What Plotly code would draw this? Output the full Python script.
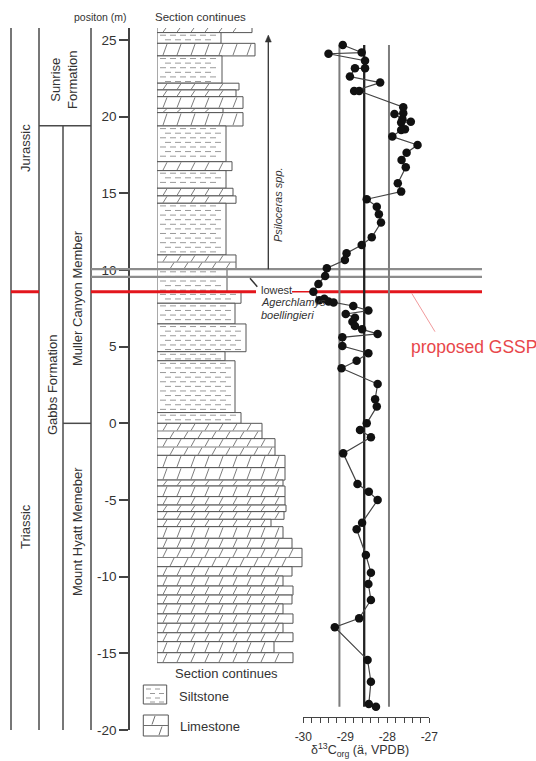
import plotly.graph_objects as go

W, H = 536, 761
FONT = "Liberation Sans, Arial, sans-serif"
TXT = "#333333"
LINE = "#4a4a4a"
RED = "#e3161c"

# ---------------- lithological column ----------------
# bed boundaries (m), top to bottom
bed_bounds = [25.90, 25.48, 24.78, 23.96, 22.18, 21.74, 21.30, 20.54, 20.26, 19.39,
              17.06, 16.48, 15.33, 14.83, 14.35, 10.98, 10.05, 8.58, 7.83, 6.48,
              4.67, 4.08, 0.70, 0.00, -1.00, -2.09, -2.89, -3.70, -4.09, -4.78,
              -5.33, -5.76, -6.26, -6.74, -7.50, -8.15, -9.35, -9.96, -10.61, -11.20,
              -11.78, -12.43, -13.04, -13.66, -14.24, -14.96, -15.61]
# weathering profile of each bed (relative units)
bed_profile = [95, 64, 98, 65, 82, 79, 86, 66, 86, 69,
               75, 69, 76, 79, 69, 79, 70, 84, 78, 89,
               68, 78, 84, 105, 118, 128, 128, 126, 128, 128,
               129, 127, 114, 126, 135, 145, 135, 126, 136, 135,
               126, 136, 126, 136, 117, 136]
bed_lithology = ["lime", "silt", "lime", "silt", "lime", "lime", "lime", "lime", "lime", "silt",
                 "lime", "silt", "lime", "lime", "silt", "lime", "silt", "silt", "silt", "silt",
                 "silt", "silt", "silt"] + ["lime"] * 23

# ---------------- organic carbon isotopes ----------------
c13_position = [24.67, 24.18, 24.10, 23.65, 23.15, 23.15, 22.61, 22.22, 21.67, 21.67,
                20.61, 20.22, 20.17, 19.83, 19.67, 19.61, 19.18, 19.13, 18.70, 18.15,
                17.65, 17.17, 16.70, 15.65, 15.11, 14.61, 14.13, 13.63, 13.09, 12.13,
                11.63, 11.09, 10.65, 10.11, 9.61, 9.09, 8.58, 8.02, 8.12, 7.95,
                7.88, 7.65, 7.35, 7.13, 6.89, 6.63, 6.35, 6.13, 5.83, 5.61,
                5.04, 4.57, 4.08, 3.59, 2.56, 1.57, 1.09, 0.00, -0.43, -0.91,
                -1.96, -3.96, -4.46, -5.00, -6.48, -6.91, -8.59, -9.74, -10.48, -11.52,
                -12.72, -13.30, -15.43, -16.85, -18.30, -18.48]
c13_value = [-29.06, -28.61, -29.40, -28.53, -28.53, -28.77, -28.89, -28.17, -28.79, -28.67,
             -27.62, -27.62, -27.83, -27.64, -27.44, -27.67, -27.58, -27.67, -27.88, -27.28,
             -27.54, -27.66, -27.56, -27.75, -27.67, -28.49, -28.25, -28.20, -28.15, -28.37,
             -28.61, -28.97, -29.01, -29.44, -29.48, -29.64, -29.76, -29.62, -29.50, -29.40,
             -29.28, -28.81, -28.45, -28.99, -28.77, -28.83, -28.77, -28.60, -28.23, -29.07,
             -29.07, -28.45, -28.73, -29.09, -28.23, -28.29, -28.25, -28.49, -28.65, -28.39,
             -29.05, -28.71, -28.44, -28.23, -28.60, -28.73, -28.51, -28.39, -28.45, -28.39,
             -28.67, -29.25, -28.47, -28.39, -28.44, -28.27]
c13_mean = -28.55
c13_envelope = [-29.14, -27.96]

# ---------------- stratigraphic levels (m) ----------------
sunrise_base = 19.4
member_contact = 0.0
gssp_level = 8.58
psiloceras_levels = [10.05, 9.55]
psiloceras_top = 25.32
column_top, column_base = 26.0, -20.2
y_ticks = list(range(-20, 30, 5))
c13_ticks = [-30, -29, -28, -27]

Y_RANGE = [-20, 25.78]
Y_DOM = [1 - 730 / H, 1 - 28 / H]
PX_PER_M = (730 - 28) / (Y_RANGE[1] - Y_RANGE[0])


def xp(x):
    return x / W


def yp(y):
    return 1 - y / H


fig = go.Figure()

# beds as horizontal bars
mids = [(bed_bounds[i] + bed_bounds[i + 1]) / 2 for i in range(len(bed_profile))]
thick = [bed_bounds[i] - bed_bounds[i + 1] for i in range(len(bed_profile))]
fig.add_trace(go.Bar(orientation="h", y=mids, x=bed_profile, width=thick, base=0,
                     xaxis="x2", yaxis="y",
                     marker=dict(color="white", line=dict(color="#555555", width=1)),
                     hoverinfo="skip", showlegend=False))

# lithology ornaments
silt_x, silt_y, lime_x, lime_y = [], [], [], []
for i, lith in enumerate(bed_lithology):
    top, base, wid = bed_bounds[i], bed_bounds[i + 1], bed_profile[i]
    if lith == "silt":
        k = 0
        y = top - 0.17
        while y > base + 0.08:
            x = 3 + (k % 2) * 5
            while x + 6 <= wid - 3:
                silt_x += [x, x + 6, None]
                silt_y += [y, y, None]
                x += 10
            y -= 0.3
            k += 1
    else:
        hpx = (top - base) * PX_PER_M
        n = max(1, round(hpx / 9))
        rh = (top - base) / n
        for r in range(n):
            rt = top - r * rh
            rb = rt - rh
            if r > 0:
                lime_x += [0, wid, None]
                lime_y += [rt, rt, None]
            x = 6 + (r % 2) * 7
            while x + 4 <= wid - 3:
                lime_x += [x, x + 4, None]
                lime_y += [rb + 0.06 * rh, rt - 0.06 * rh, None]
                x += 14

fig.add_trace(go.Scatter(x=silt_x, y=silt_y, mode="lines", xaxis="x2", yaxis="y",
                         line=dict(color="#9a9a9a", width=1), hoverinfo="skip", showlegend=False))
fig.add_trace(go.Scatter(x=lime_x, y=lime_y, mode="lines", xaxis="x2", yaxis="y",
                         line=dict(color="#6e6e6e", width=0.9), hoverinfo="skip", showlegend=False))

# isotope envelope and mean
y_span = [min(c13_position), max(c13_position)]
for v in c13_envelope:
    fig.add_trace(go.Scatter(x=[v, v], y=y_span, mode="lines", xaxis="x3", yaxis="y",
                             line=dict(color="#7d7d7d", width=2), hoverinfo="skip", showlegend=False))
fig.add_trace(go.Scatter(x=[c13_mean, c13_mean], y=y_span, mode="lines", xaxis="x3", yaxis="y",
                         line=dict(color="#222222", width=2.3), hoverinfo="skip", showlegend=False))

# isotope curve
fig.add_trace(go.Scatter(x=c13_value, y=c13_position, mode="lines+markers", xaxis="x3", yaxis="y",
                         line=dict(color="#444444", width=1.2),
                         marker=dict(size=8.5, color="#111111"), showlegend=False))

shapes = []


def vline(x, y0, y1, color=LINE, width=1.5):
    shapes.append(dict(type="line", xref="paper", yref="y", x0=xp(x), x1=xp(x), y0=y0, y1=y1,
                       line=dict(color=color, width=width)))


def hline(y, x0, x1, color=LINE, width=1.5, layer="above"):
    shapes.append(dict(type="line", xref="paper", yref="y", x0=xp(x0), x1=xp(x1), y0=y, y1=y,
                       line=dict(color=color, width=width), layer=layer))


# chronostratigraphic / lithostratigraphic columns
vline(11, column_top, column_base)
vline(39, column_top, column_base)
vline(63, sunrise_base, column_base)
vline(91, column_top - 0.1, column_base)
hline(sunrise_base, 39, 91)
hline(member_contact, 63, 91)

# first Psiloceras levels
for lv in psiloceras_levels:
    hline(lv, 91, 305, color="#8c8c8c", width=2.3)
    hline(lv, 305, 482, color="#8c8c8c", width=2.3, layer="below")

# Psiloceras range arrow
vline(268.3, psiloceras_levels[0], psiloceras_top - 0.2, color="#333333", width=1.3)
tip = yp(730 - (psiloceras_top - Y_RANGE[0]) * PX_PER_M)
shapes.append(dict(type="path", xref="paper", yref="paper",
                   path=f"M {xp(265.3)} {tip - 7 / H} L {xp(271.3)} {tip - 7 / H} L {xp(268.3)} {tip} Z",
                   fillcolor="#333333", line=dict(color="#333333", width=0.5)))

# proposed GSSP level
hline(gssp_level, 11, 39, color=RED, width=3)
hline(gssp_level, 91, 256, color=RED, width=3)
hline(gssp_level, 292, 312, color=RED, width=1.5, layer="below")
hline(gssp_level, 312, 482, color=RED, width=3, layer="below")

# leader lines
shapes.append(dict(type="line", xref="paper", yref="paper", x0=xp(250), y0=yp(278.3),
                   x1=xp(257.3), y1=yp(286.7), line=dict(color="#333333", width=1.5)))
shapes.append(dict(type="line", xref="paper", yref="paper", x0=xp(411.7), y0=yp(293.3),
                   x1=xp(435), y1=yp(331.7), line=dict(color="#f19a9c", width=1)))


# legend swatches
def rect(x0, y0, x1, y1):
    shapes.append(dict(type="rect", xref="paper", yref="paper", x0=xp(x0), x1=xp(x1),
                       y0=yp(y0), y1=yp(y1), line=dict(color="#555555", width=1),
                       fillcolor="white"))


def seg(x0, y0, x1, y1, color="#8a8a8a", width=1):
    shapes.append(dict(type="line", xref="paper", yref="paper", x0=xp(x0), x1=xp(x1),
                       y0=yp(y0), y1=yp(y1), line=dict(color=color, width=width)))


rect(143.3, 685, 166.7, 704)
for k, yy in enumerate([689, 693.5, 698, 702]):
    x = 146 + (k % 2) * 4
    while x + 5 <= 164:
        seg(x, yy, x + 5, yy, color="#9a9a9a")
        x += 9
rect(143.3, 715, 168.3, 736)
seg(143.3, 725.5, 168.3, 725.5, color="#6e6e6e")
seg(152, 724.5, 155, 716, color="#6e6e6e")
seg(159, 735, 162, 726.5, color="#6e6e6e")


def note(text, x, y, size=13, color=TXT, angle=0, xanchor="center", yanchor="middle"):
    return dict(text=text, x=xp(x), y=yp(y), xref="paper", yref="paper", showarrow=False,
                textangle=angle, xanchor=xanchor, yanchor=yanchor,
                font=dict(size=size, color=color, family=FONT))


annotations = [
    note("Jurassic", 25, 148, angle=-90),
    note("Triassic", 25, 527, angle=-90),
    note("Sunrise<br>Formation", 64, 80, angle=-90),
    note("Gabbs Formation", 52, 385, angle=-90),
    note("Muller Canyon Member", 77, 298, angle=-90),
    note("Mount Hyatt Memeber", 77, 532, angle=-90),
    note("positon (m)", 129, 17, size=10.5, xanchor="right"),
    note("Section continues", 153, 17, size=11.5, xanchor="left"),
    note("Section continues", 226.5, 673, size=13),
    note("Siltstone", 176.5, 696.5, size=13, xanchor="left"),
    note("Limestone", 177.5, 726.5, size=13, xanchor="left"),
    note("<i>Psiloceras spp.</i>", 278, 205, size=11, angle=-90),
    note("lowest", 259, 289.5, size=11, xanchor="left"),
    note("<i>Agerchlamys</i>", 259, 302.5, size=11, xanchor="left"),
    note("<i>boellingieri</i>", 259, 315, size=11, xanchor="left"),
    note("proposed GSSP", 409, 346.5, size=17.5, color="#e8474b", xanchor="left"),
    note("δ<sup>13</sup>C<sub>org</sub> (ä, VPDB)", 360, 750, size=12.5),
]

fig.update_layout(
    template="none",
    width=W, height=H, autosize=False,
    margin=dict(l=0, r=0, t=0, b=0, pad=0, autoexpand=False),
    paper_bgcolor="white", plot_bgcolor="rgba(0,0,0,0)",
    barmode="overlay", showlegend=False,
    xaxis=dict(visible=False, automargin=False),
    xaxis2=dict(domain=[xp(157), xp(305)], range=[0, 148], visible=False, anchor="y",
                automargin=False, fixedrange=True),
    xaxis3=dict(domain=[xp(303.3), xp(429.3)], range=[-30, -27], anchor="free",
                position=yp(716.7), automargin=False,
                showline=True, linecolor="#444444", linewidth=1.3,
                ticks="outside", ticklen=5, tickwidth=1.2, tickcolor="#444444",
                tickvals=c13_ticks, ticktext=[str(t) for t in c13_ticks],
                tickfont=dict(size=12, color=TXT, family=FONT), ticklabelstandoff=4,
                minor=dict(tickmode="linear", tick0=-30, dtick=0.2, ticks="outside",
                           ticklen=5, tickwidth=1, tickcolor="#444444", showgrid=False),
                showgrid=False, zeroline=False),
    yaxis=dict(domain=Y_DOM, range=Y_RANGE, anchor="free", position=xp(129), side="left",
               automargin=False,
               showline=True, linecolor="#444444", linewidth=1.5,
               ticks="outside", ticklen=9, tickwidth=1.5, tickcolor="#444444",
               tickvals=y_ticks, ticktext=[str(t) for t in y_ticks],
               tickfont=dict(size=13.5, color=TXT, family=FONT),
               showgrid=False, zeroline=False),
    shapes=shapes,
    annotations=annotations,
)

fig.write_html("out.html")
